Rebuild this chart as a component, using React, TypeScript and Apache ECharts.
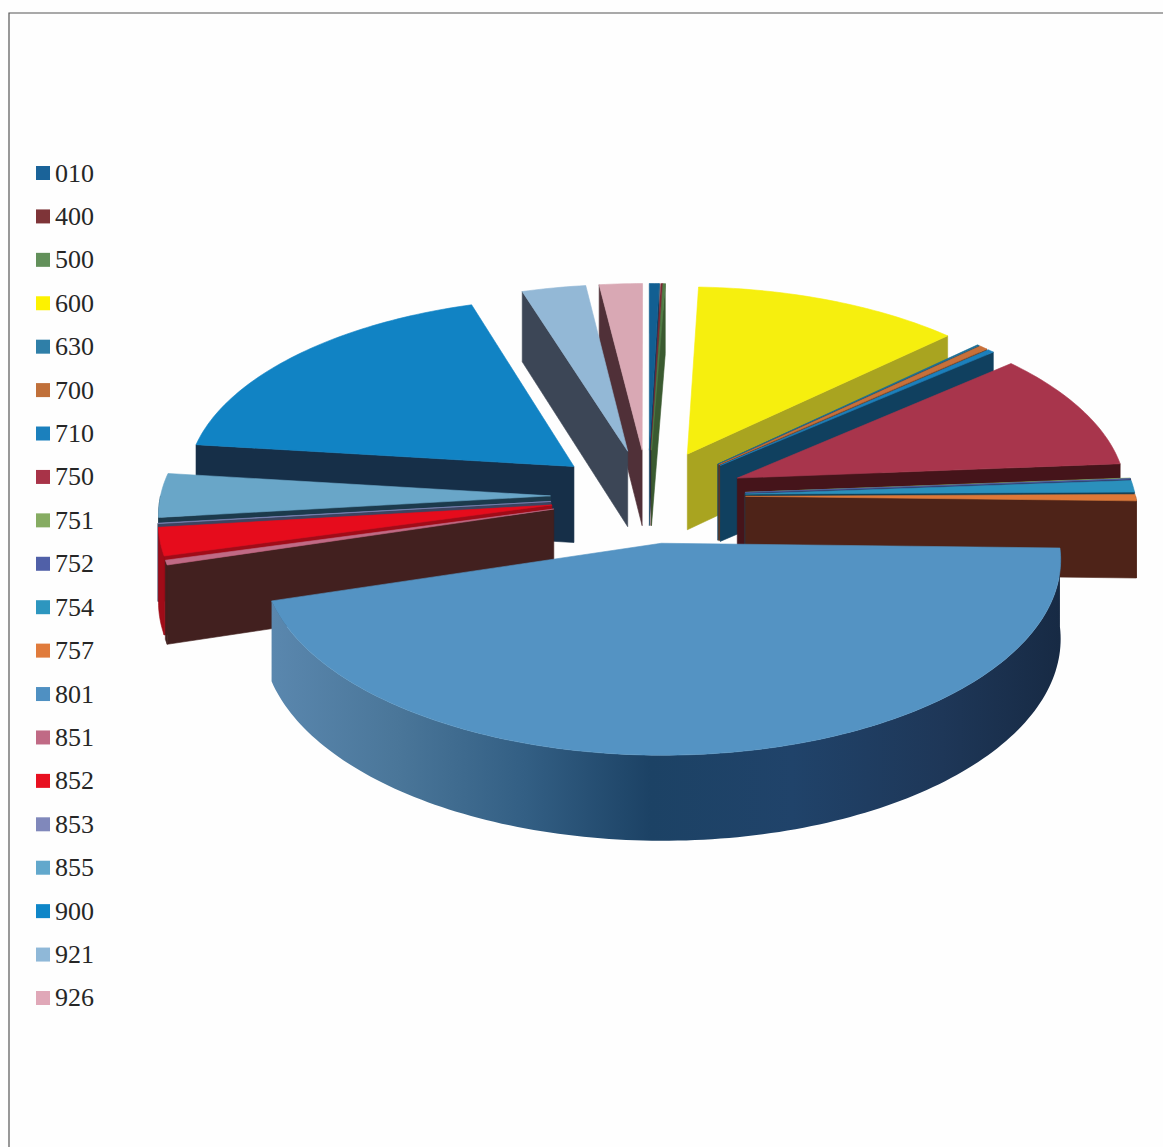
import React, { useEffect, useRef } from "react";
import * as echarts from "echarts";

const categories = ["010","400","500","600","630","700","710","750","751","752","754","757","801","851","852","853","855","900","921","926"];
const shares = [0.45,0.08,0.1,12.2,0.1,0.4,0.3,10.1,0.05,0.03,1.0,0.55,44.9,0.4,2.4,0.04,3.75,18.2,2.9,1.95];
const legendColors = ["#1a6399","#7e3438","#62905a","#fdf200","#2f7fa8","#c0703a","#1b80bd","#a83348","#86ac62","#5060a8","#2d96bf","#e07b3c","#4f90c2","#c06a85","#e81020","#8088bb","#62a8cc","#0f86c8","#8fb8d8","#e0a8b8"];
const topColors = ["#125f92","#7a2a34","#4f7d45","#f6ef0e","#1c6f96","#c8703a","#1b80bd","#a8354c","#86ac62","#5060a8","#2b90bc","#de7838","#5493c3","#c06a85","#e60c1c","#8088bb","#69a6c8","#1183c4","#93b8d6","#d9a8b4"];
const wallColors = ["#0c3a5c","#4a1e22","#3a5a30","#a9a420","#124060","#6a3a1c","#10405f","#45141a","#3f5a30","#2c3660","#123f55","#4e2318","#1f4468","#42201f","#a00c18","#3c4460","#1c3a4c","#162f48","#3c4656","#503038"];
const mainWallStops = [[0,"#5a87ae"],[0.16,"#4a7699"],[0.32,"#335f84"],[0.48,"#1c4265"],[0.66,"#20436a"],[0.85,"#1e3758"],[1,"#172a44"]];

const W = 1163, H = 1147;
const CX = 648, CY = 496, AX = 390, BY = 187, HZ = 77, S = 0.08, EXPLODE = 0.25;

function project(x: number, y: number, z: number) {
  const d = 1 + S * y;
  return [CX + (AX * x) / d, CY - (BY * y + HZ * z) / d];
}

const total = shares.reduce((a, b) => a + b, 0);
const rad = (v: number) => (v / total) * Math.PI * 2;
let acc = 0;
const slices = shares.map((v) => {
  const a0 = rad(acc);
  acc += v;
  return { a0, a1: rad(acc), mid: (a0 + rad(acc)) / 2 };
});

function sliceShapes(i: number) {
  const { a0, a1, mid } = slices[i];
  const ox = EXPLODE * Math.sin(mid), oy = EXPLODE * Math.cos(mid);
  const at = (a: number, r: number, z: number) => project(ox + r * Math.sin(a), oy + r * Math.cos(a), z);
  const arc = (from: number, to: number, z: number) => {
    const n = Math.max(2, Math.ceil((to - from) / 0.02));
    const pts: number[][] = [];
    for (let k = 0; k <= n; k++) pts.push(at(from + ((to - from) * k) / n, 1, z));
    return pts;
  };
  const children: any[] = [];
  const flat = (points: number[][], fill: any) => ({
    type: "polygon",
    shape: { points },
    style: { fill, stroke: typeof fill === "string" ? fill : "none", lineWidth: 0.6 },
    silent: true,
  });
  const wall = wallColors[i];
  const radial = (a: number) => flat([at(a, 0, 0), at(a, 1, 0), at(a, 1, -1), at(a, 0, -1)], wall);
  if (a1 < Math.PI) children.push(radial(a1));
  if (a0 > Math.PI) children.push(radial(a0));
  const from = Math.max(a0, Math.PI / 2), to = Math.min(a1, Math.PI * 1.5);
  if (to > from) {
    const fill = to - from > 1
      ? new echarts.graphic.LinearGradient(0, 0, 1, 0, mainWallStops.map(([offset, color]) => ({ offset: offset as number, color: color as string })))
      : wall;
    children.push(flat([...arc(from, to, 0), ...arc(from, to, -1).reverse()], fill));
  }
  children.push(flat([at(a0, 0, 0), ...arc(a0, a1, 0)], topColors[i]));
  return children;
}

export default function App() {
  const ref = useRef<HTMLDivElement>(null);
  useEffect(() => {
    const chart = echarts.init(ref.current!, undefined, { renderer: "svg" });
    chart.setOption({
      animation: false,
      backgroundColor: "#fefefe",
      color: legendColors,
      legend: {
        orient: "vertical",
        left: 36,
        top: 160,
        padding: 0,
        itemWidth: 14,
        itemHeight: 14,
        itemGap: 17.42,
        icon: "rect",
        data: categories,
        selectedMode: false,
        textStyle: { fontFamily: "Liberation Serif", fontSize: 26, color: "#262626" },
      },
      graphic: [
        { type: "polyline", shape: { points: [[9, H], [9, 13], [W, 13]] }, style: { fill: "none", stroke: "#555", lineWidth: 1.2 } },
      ],
      series: categories.map((name, i) => ({
        type: "custom",
        name,
        coordinateSystem: "none",
        data: [[shares[i]]],
        itemStyle: { color: legendColors[i] },
        z: 10 + Math.round(200 * (1 - Math.abs(slices[i].mid - Math.PI) / Math.PI)),
        renderItem: () => ({ type: "group", children: sliceShapes(i) }),
      })),
    });
    return () => chart.dispose();
  }, []);
  return <div ref={ref} style={{ position: "absolute", left: 0, top: 0, width: W, height: H }} />;
}
